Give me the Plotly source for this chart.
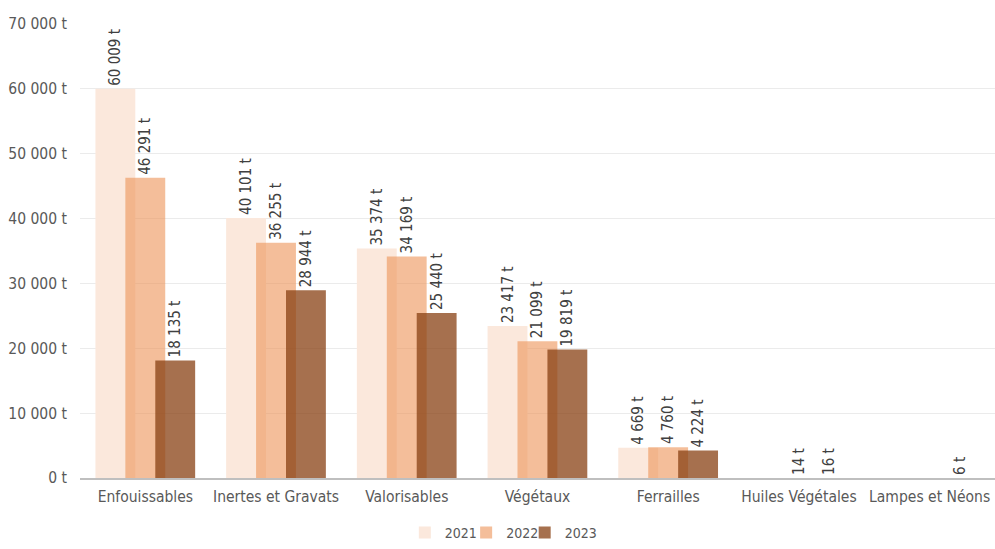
import plotly.graph_objects as go

categories = ["Enfouissables", "Inertes et Gravats", "Valorisables", "Végétaux",
              "Ferrailles", "Huiles Végétales", "Lampes et Néons"]
years = ["2021", "2022", "2023"]
values_2021 = [60009, 40101, 35374, 23417, 4669, None, None]
values_2022 = [46291, 36255, 34169, 21099, 4760, 14, None]
values_2023 = [18135, 28944, 25440, 19819, 4224, 16, 6]

tick_vals = [0, 10000, 20000, 30000, 40000, 50000, 60000, 70000]
tick_text = ["0 t", "10 000 t", "20 000 t", "30 000 t", "40 000 t", "50 000 t", "60 000 t", "70 000 t"]

colors = ["rgba(251,232,220,1)", "rgba(237,147,87,0.6)", "rgba(136,64,19,0.75)"]
offsets = [-0.382, -0.153, 0.076]
legend_ids = ["legend", "legend2", "legend3"]
legend_x = [0.355, 0.422, 0.486]
font = "DejaVu Sans Condensed, Roboto, Arial, sans-serif"

fig = go.Figure()
for name, vals, col, off, lg in zip(years, [values_2021, values_2022, values_2023],
                                    colors, offsets, legend_ids):
    labels = [f"{v:,}".replace(",", " ") + " t" if v is not None else "" for v in vals]
    fig.add_trace(go.Bar(
        x=categories, y=vals, name=name, legend=lg,
        marker=dict(color=col, line=dict(width=0)),
        width=0.305, offset=off,
        text=labels, textposition="outside", textangle=-90,
        constraintext="none",
        textfont=dict(size=15, color="#404040", family=font),
        cliponaxis=False,
    ))

legend_style = dict(orientation="h", xanchor="left", y=-0.121, yanchor="middle",
                    bgcolor="rgba(0,0,0,0)", font=dict(size=14, color="#595959"),
                    itemwidth=30)
layout_legends = {lg: dict(legend_style, x=lx) for lg, lx in zip(legend_ids, legend_x)}

fig.update_layout(
    barmode="overlay",
    width=995, height=549,
    plot_bgcolor="white", paper_bgcolor="white",
    margin=dict(l=80, r=0, t=24, b=61),
    font=dict(family=font, size=15, color="#595959"),
    showlegend=True,
    **layout_legends,
)
fig.update_xaxes(range=[-0.5, 6.5], showline=True, linecolor="#BFBFBF", linewidth=1.5,
                 ticks="", tickfont=dict(size=15.5, color="#595959"), automargin=False,
                 ticklabelstandoff=4)
fig.update_yaxes(range=[0, 70000], tickvals=tick_vals, ticktext=tick_text,
                 showgrid=True, gridcolor="#EBEBEB", zeroline=False, automargin=False,
                 tickfont=dict(size=15.5, color="#595959"), ticklen=0, ticklabelstandoff=12)

# no body margin so the figure starts at the window corner
page_fix = ("document.body.style.margin='0';"
            "document.body.style.overflow='hidden';"
            "document.documentElement.style.overflow='hidden';")
fig.write_html("out.html", post_script=page_fix, config={"displayModeBar": False})
